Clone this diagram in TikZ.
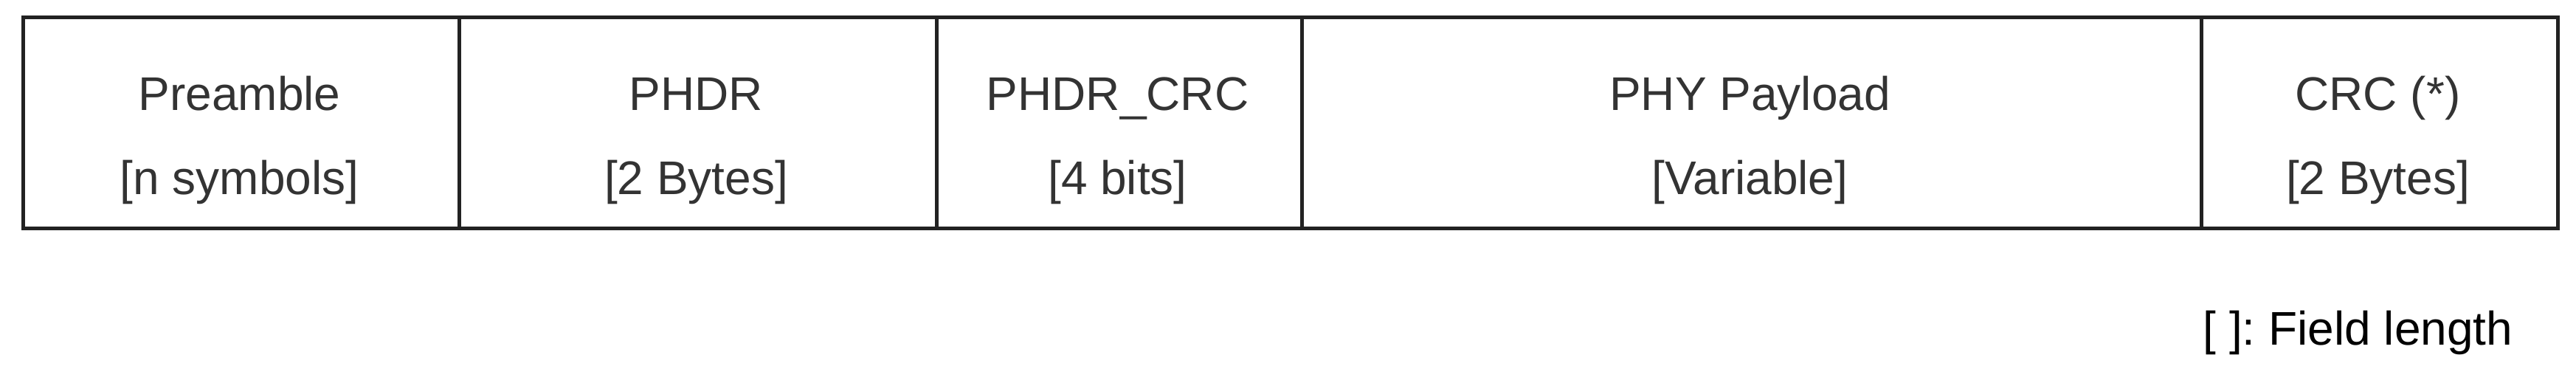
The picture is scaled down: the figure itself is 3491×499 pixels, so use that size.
\documentclass[tikz,border=0pt]{standalone}
\usepackage{fontspec}
\setmainfont{Liberation Sans}
\frenchspacing
\definecolor{frame}{HTML}{222222}
\definecolor{txt}{HTML}{333333}
\begin{document}
\begin{tikzpicture}[x=0.01cm, y=-0.01cm,
	field/.style={draw=frame, line width=1.4pt, inner sep=0pt, minimum height=2.86cm},
	lbl/.style={anchor=base, text=txt, inner sep=0pt, font=\fontsize{18.2}{22}\selectfont}]
	\useasboundingbox (0,0) rectangle (3491,499);
	%frame fields
	\foreach \xa/\xb/\ttl/\flen [count=\i] in {29/620/Preamble/{[n symbols]}, 620/1267/PHDR/{[2 Bytes]}, 1267/1762/PHDR\_CRC/{[4 bits]}, 1762/2981/PHY Payload/{[Variable]}, 2981/3464/CRC (*)/{[2 Bytes]}}
	{
	\node[field, anchor=north west, minimum width={(\xb-\xa)*0.01cm}] (f\i) at (\xa,21) {};
	\node[lbl] (t\i) at ({(\xa+\xb)/2},149) {\ttl};
	\node[lbl] (l\i) at ({(\xa+\xb)/2},263) {\flen};
	}
	%legend
	\node[lbl, anchor=base east, text=black] (key) at (3406,467) {[ ]: Field length};
\end{tikzpicture}
\end{document}
